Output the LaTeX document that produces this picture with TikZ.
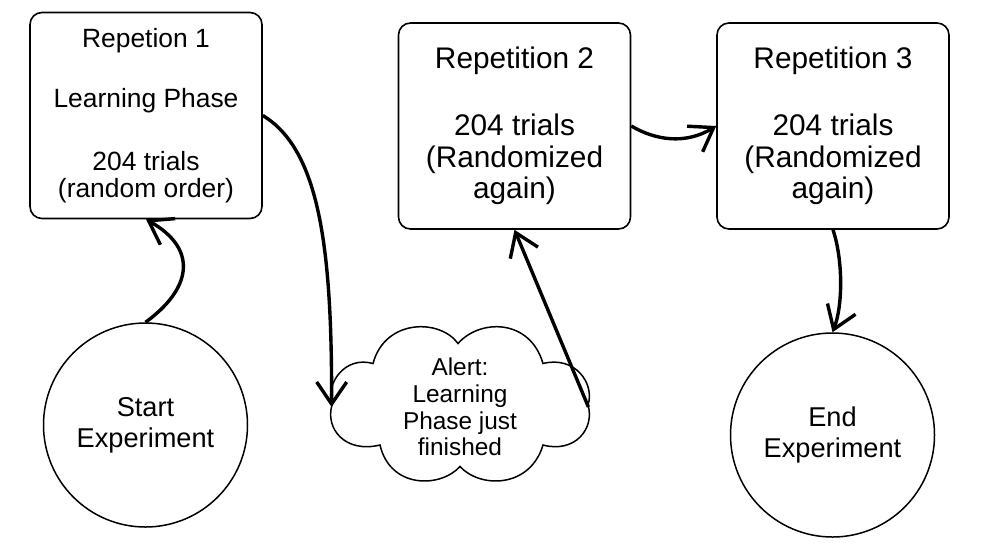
\documentclass[tikz,border=0pt]{standalone}
\usepackage{fontspec}
\setmainfont{Liberation Sans}
\usetikzlibrary{arrows.meta}

\begin{document}
\begin{tikzpicture}[x=0.5pt,y=-0.5pt,
  repbox/.style={draw,line width=0.8pt,rounded corners=6pt,minimum width=116pt,minimum height=103pt,align=center,inner sep=0pt},
  endpoint/.style={draw,circle,line width=0.75pt,minimum size=102pt,align=center,inner sep=0pt,font=\fontsize{13.6}{15.5}\selectfont},
  alert/.style={minimum width=128pt,minimum height=76.5pt,inner sep=0pt,align=center,font=\fontsize{12.2}{13.35}\selectfont},
  flow/.style={line width=1.7pt,-{Straight Barb[length=11pt,width=15pt]}}]
  \useasboundingbox (0,0) rectangle (989,542);

  \node[repbox,font=\fontsize{13.2}{13.5}\selectfont] (rep1) at (146,115.5)
    {Repetion 1\\[16.5pt]Learning Phase\\[18pt]204 trials\\(random order)};
  \node[repbox,font=\fontsize{14.9}{15.8}\selectfont] (rep2) at (514.5,126)
    {Repetition 2\\[17.7pt]204 trials\\(Randomized\\again)};
  \node[repbox,font=\fontsize{14.9}{15.8}\selectfont] (rep3) at (833,126)
    {Repetition 3\\[17.7pt]204 trials\\(Randomized\\again)};

  \node[endpoint] (start) at (145.5,425) {Start\\Experiment};
  \node[endpoint] (finish) at (832.5,435) {End\\Experiment};
  \node[alert] (alert) at (460,407) {Alert:\\Learning\\Phase just\\finished};

  \begin{scope}[shift={(460,403.5)},line width=0.75pt]
    \draw (-2,-60) .. controls (20,-85) and (70,-85) .. (83,-40)
      .. controls (115,-48) and (135,-20) .. (128,1.5)
      .. controls (135,25) and (115,50) .. (83,41.5)
      .. controls (70,85) and (20,85) .. (0,63)
      .. controls (-20,85) and (-70,85) .. (-80,41.5)
      .. controls (-115,50) and (-135,25) .. (-128,1.5)
      .. controls (-135,-20) and (-115,-48) .. (-87,-40)
      .. controls (-75,-85) and (-20,-85) .. (-2,-60) -- cycle;
  \end{scope}

  \draw[flow] (start.north) .. controls (190,290) and (200,250) .. (rep1.south);
  \draw[flow] (rep1.east) .. controls (320,150) and (332,250) .. (alert.west);
  \draw[flow] (alert.east) -- (rep2.south);
  \draw[flow] (rep2.east) .. controls (655,140) and (685,145) .. (rep3.west);
  \draw[flow] (rep3.south) .. controls (843,260) and (843,305) .. (finish.north);

\end{tikzpicture}
\end{document}
